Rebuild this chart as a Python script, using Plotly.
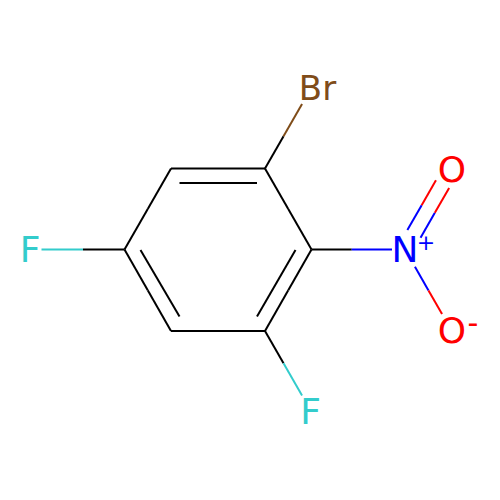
import plotly.graph_objects as go

BLACK = "#000000"
BLUE = "#0000FF"
RED = "#FF0000"
BROWN = "#7F4C19"
CYAN = "#33CCCC"

# atom positions in picture pixels
atom_names = ["C1", "C2", "C3", "C4", "C5", "C6", "Br", "N", "O1", "O2", "F1", "F2"]
atom_x = [265, 311.5, 265, 171, 124.5, 171, 311.5, 405, 451.5, 451.5, 311.5, 31]
atom_y = [168.5, 249.5, 331, 331, 249.5, 168.5, 87.5, 249.5, 168.5, 330.5, 412, 249.5]
atom_colors = [BLACK] * 6 + [BROWN, BLUE, RED, RED, CYAN, CYAN]

# bonds: start atom, end atom, gap left for the label at the end atom
bond_start = ["C1", "C2", "C3", "C4", "C5", "C6", "C1", "C2", "C3", "C5", "N"]
bond_end = ["C2", "C3", "C4", "C5", "C6", "C1", "Br", "N", "F1", "F2", "O2"]
bond_gap_start = [0, 0, 0, 0, 0, 0, 0, 0, 0, 0, 20]
bond_gap_end = [0, 0, 0, 0, 0, 0, 19, 13, 19, 10.5, 19]

# inner lines of the ring double bonds
inner_x0 = [179.5, 140.5, 295.5]
inner_y0 = [183, 250, 250]
inner_x1 = [257, 179.5, 257]
inner_y1 = [183, 316.5, 316.5]

# the N=O double bond, offset either side of the N-O axis
double_start = "N"
double_end = "O1"
double_offset = 7.6
double_gap_start = 18
double_gap_end = 18

# atom labels
label_text = ["Br", "N", "O", "O", "F", "F"]
label_x = [317.5, 405, 452, 452, 310.5, 30]
label_y = [91, 253, 173, 334, 415, 253]
label_colors = [BROWN, BLUE, RED, RED, CYAN, CYAN]
label_sizes = [34, 36, 36, 36, 36, 36]

charge_text = ["+", "-"]
charge_x = [426, 473]
charge_y = [244, 325]
charge_colors = [BLUE, RED]
charge_sizes = [22, 30]

index = {name: i for i, name in enumerate(atom_names)}


def add_segment(fig, x0, y0, x1, y1, color):
    fig.add_trace(go.Scatter(x=[x0, x1], y=[y0, y1], mode="lines",
                             line=dict(color=color, width=2), hoverinfo="skip"))


def add_bond(fig, a, b, gap_a, gap_b, shift_x=0, shift_y=0):
    # colours change half way along the part of the bond that is drawn
    xa, ya = atom_x[index[a]], atom_y[index[a]]
    xb, yb = atom_x[index[b]], atom_y[index[b]]
    length = ((xb - xa) ** 2 + (yb - ya) ** 2) ** 0.5
    ux, uy = (xb - xa) / length, (yb - ya) / length
    x0, y0 = xa + ux * gap_a + shift_x, ya + uy * gap_a + shift_y
    x1, y1 = xb - ux * gap_b + shift_x, yb - uy * gap_b + shift_y
    xm, ym = (x0 + x1) / 2, (y0 + y1) / 2
    add_segment(fig, x0, y0, xm, ym, atom_colors[index[a]])
    add_segment(fig, xm, ym, x1, y1, atom_colors[index[b]])


fig = go.Figure()

for a, b, gap_a, gap_b in zip(bond_start, bond_end, bond_gap_start, bond_gap_end):
    add_bond(fig, a, b, gap_a, gap_b)

for x0, y0, x1, y1 in zip(inner_x0, inner_y0, inner_x1, inner_y1):
    add_segment(fig, x0, y0, x1, y1, BLACK)

# perpendicular to N-O1 is (0.867, 0.498)
for sign in [-1, 1]:
    add_bond(fig, double_start, double_end, double_gap_start, double_gap_end,
             sign * double_offset * 0.867, sign * double_offset * 0.498)

fig.add_trace(go.Scatter(x=label_x, y=label_y, mode="text", text=label_text,
                         textposition="middle center", hoverinfo="skip",
                         textfont=dict(family="DejaVu Sans", size=label_sizes, color=label_colors)))
fig.add_trace(go.Scatter(x=charge_x, y=charge_y, mode="text", text=charge_text,
                         textposition="middle center", hoverinfo="skip",
                         textfont=dict(family="DejaVu Sans", size=charge_sizes, color=charge_colors)))

fig.update_xaxes(range=[0, 500], visible=False, fixedrange=True)
fig.update_yaxes(range=[500, 0], visible=False, fixedrange=True)
fig.update_layout(width=500, height=500, margin=dict(l=0, r=0, t=0, b=0),
                  showlegend=False, paper_bgcolor="white", plot_bgcolor="white")

fig.write_html("out.html", config=dict(displayModeBar=False),
               post_script="document.body.style.margin = '0';")
